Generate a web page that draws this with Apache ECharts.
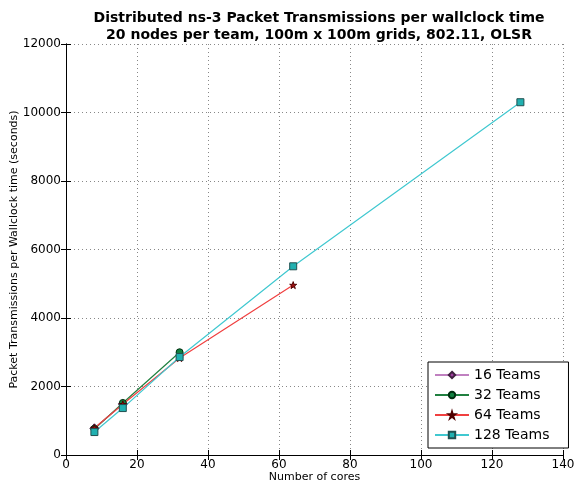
<!DOCTYPE html>
<html>
<head>
<meta charset="utf-8">
<script src="https://cdn.jsdelivr.net/npm/echarts@6/dist/echarts.min.js"></script>
<style>
html, body { margin: 0; padding: 0; background: #fff; }
#chart { width: 574px; height: 486px; }
</style>
</head>
<body>
<div id="chart"></div>
<script>
// data
const cores = [8, 16, 32, 64, 128];
const teams16 = [780, 1490];
const teams32 = [760, 1520, 3000];
const teams64 = [790, 1480, 2830, 4960];
const teams128 = [670, 1370, 2860, 5510, 10300];

const star = 'path://M50,0 L61,35 L98,35 L68,57 L79,91 L50,70 L21,91 L32,57 L2,35 L39,35 Z';
const pair = (vals) => vals.map((v, i) => [cores[i], v]);
const font = 'DejaVu Sans';

const chart = echarts.init(document.getElementById('chart'));

const mk = (name, vals, lineColor, fill, edge, symbol, size) => ({
    name: name,
    type: 'line',
    data: pair(vals),
    symbol: symbol,
    symbolSize: size,
    showAllSymbol: true,
    animation: false,
    lineStyle: { color: lineColor, width: 1.2 },
    itemStyle: { color: fill, borderColor: edge, borderWidth: 1 },
    emphasis: { disabled: true }
});

const option = {
    backgroundColor: '#fff',
    textStyle: { fontFamily: font },
    title: {
        text: 'Distributed ns-3 Packet Transmissions per wallclock time\n20 nodes per team, 100m x 100m grids, 802.11, OLSR',
        left: 314,
        textAlign: 'center',
        top: 5,
        textStyle: { fontFamily: font, fontSize: 14, fontWeight: 'bold', color: '#000', lineHeight: 17 }
    },
    grid: { left: 66, right: 11, top: 44, bottom: 31, containLabel: false, outerBoundsMode: 'none' },
    legend: {
        orient: 'vertical',
        left: 428,
        top: 362,
        padding: [6, 19, 6, 6],
        itemGap: 6,
        itemWidth: 34,
        itemHeight: 8,
        borderColor: '#000',
        borderWidth: 1,
        backgroundColor: '#fff',
        textStyle: { fontFamily: font, fontSize: 14, color: '#000' },
        data: ['16 Teams', '32 Teams', '64 Teams', '128 Teams']
    },
    xAxis: [{
        type: 'value',
        min: 0, max: 140, interval: 20,
        name: 'Number of cores',
        nameLocation: 'middle',
        nameGap: 17,
        nameMoveOverlap: false,
        nameTextStyle: { fontFamily: font, fontSize: 11, color: '#000' },
        axisLine: { lineStyle: { color: '#000' } },
        axisTick: { inside: true, length: 5, lineStyle: { color: '#000' } },
        axisLabel: { fontFamily: font, fontSize: 12, color: '#000', margin: 4 },
        splitLine: { show: true, lineStyle: { color: '#888', type: [1, 3] } }
    }, {
        type: 'value',
        position: 'top',
        min: 0, max: 140, interval: 20,
        axisLine: { show: true, lineStyle: { color: '#000' } },
        axisTick: { show: true, inside: true, length: 5, lineStyle: { color: '#000' } },
        axisLabel: { show: false },
        splitLine: { show: false }
    }],
    yAxis: [{
        type: 'value',
        min: 0, max: 12000, interval: 2000,
        name: 'Packet Transmissions per Wallclock time (seconds)',
        nameLocation: 'middle',
        nameGap: 46,
        nameMoveOverlap: false,
        nameTextStyle: { fontFamily: font, fontSize: 11, color: '#000' },
        axisLine: { show: true, lineStyle: { color: '#000' } },
        axisTick: { show: true, inside: true, length: 5, lineStyle: { color: '#000' } },
        axisLabel: { fontFamily: font, fontSize: 12, color: '#000', margin: 5, formatter: (v) => String(v) },
        splitLine: { show: true, lineStyle: { color: '#888', type: [1, 3] } }
    }, {
        type: 'value',
        position: 'right',
        min: 0, max: 12000, interval: 2000,
        axisLine: { show: true, lineStyle: { color: '#000' } },
        axisTick: { show: true, inside: true, length: 5, lineStyle: { color: '#000' } },
        axisLabel: { show: false },
        splitLine: { show: false }
    }],
    series: [
        mk('16 Teams', teams16, '#c080c0', '#a040a0', '#402040', 'diamond', 9),
        mk('32 Teams', teams32, '#208040', '#108040', '#003010', 'circle', 7),
        mk('64 Teams', teams64, '#f04040', '#a01010', '#500000', star, 7),
        mk('128 Teams', teams128, '#40c8d0', '#20b0b0', '#205050', 'rect', 7)
    ]
};

chart.setOption(option);
</script>
</body>
</html>
